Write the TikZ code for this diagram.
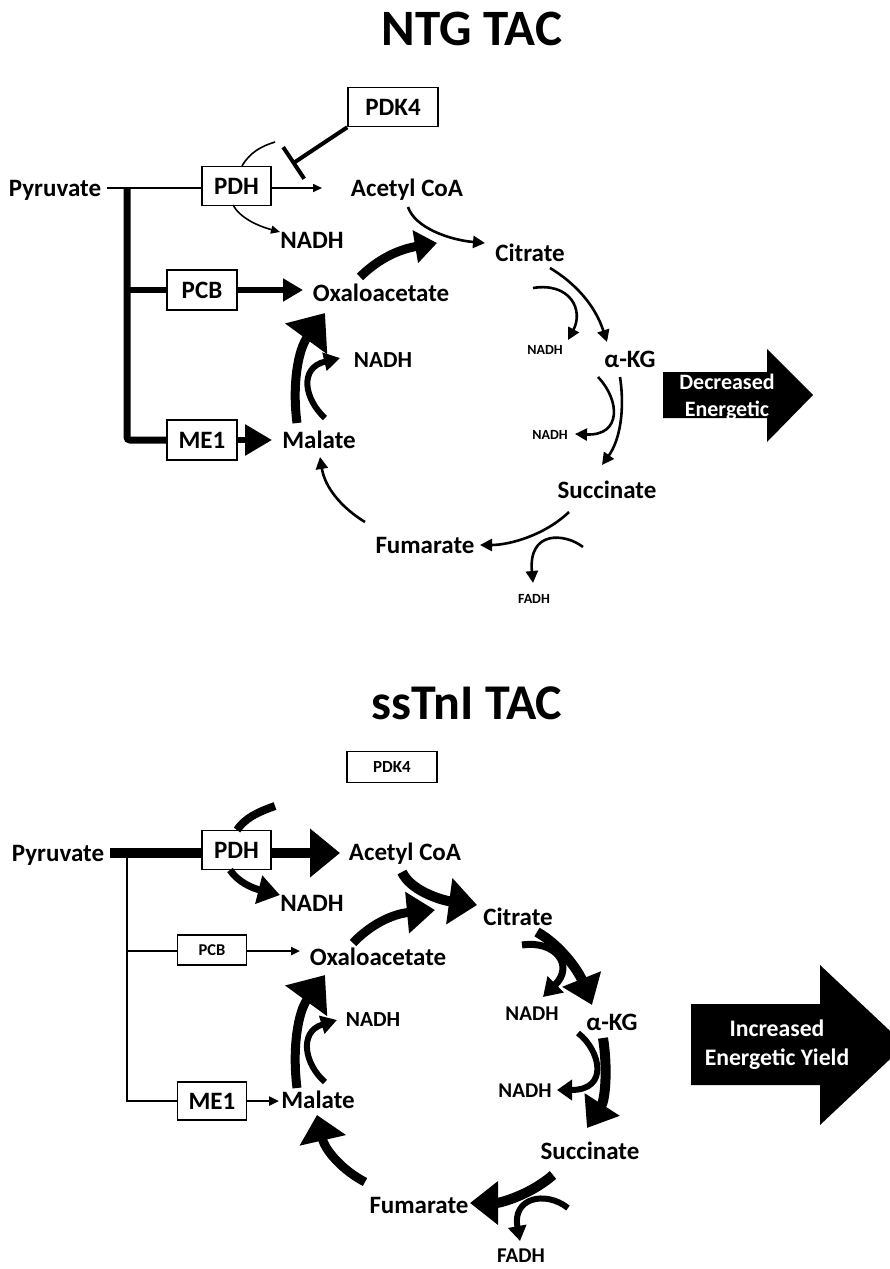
\documentclass[tikz,border=0pt]{standalone}
\usepackage{fontspec}
\setmainfont{Carlito}
\usetikzlibrary{arrows.meta}
\begin{document}
\begin{tikzpicture}[x=1pt,y=-1pt,
  lab/.style 2 args={font=\bfseries\fontsize{#1}{#1}\selectfont,text height=#2,text depth=0pt,inner sep=0pt},
  big/.style={lab={25}{16.1pt}},
  box/.style={draw,line width=1.6pt,inner sep=0pt},
  thinln/.style={line width=1.6pt},
  cyc/.style={line width=2.6pt},
  fat/.style={line width=9pt},
  med/.style={line width=6pt},
  smalltip/.style={-{Triangle[length=9pt,width=8pt]}},
  cyctip/.style={-{Triangle[length=12pt,width=12pt]}},
  midtip/.style={-{Triangle[length=16pt,width=18pt]}},
  bannerbox/.style={fill=black,draw=none}]
\useasboundingbox (0,0) rectangle (890,1269);

%================ TOP: NTG TAC =================
\node[lab={51}{32.8pt}] (titleA) at (472,29) {NTG TAC};
\node[box,minimum width=90pt,minimum height=39pt,big] (pdk4A) at (393,107) {PDK4};
\node[big] (pyrA) at (55,188) {Pyruvate};
\node[box,minimum width=69pt,minimum height=39pt,big] (pdhA) at (236.5,186) {PDH};
\node[big] (acoaA) at (407,188) {Acetyl CoA};
\node[big] (nadhPA) at (312,240) {NADH};
\node[box,minimum width=70pt,minimum height=40pt,big] (pcbA) at (202,290) {PCB};
\node[big] (oxaA) at (381,293) {Oxaloacetate};
\node[box,minimum width=70pt,minimum height=40pt,big] (me1A) at (202,440) {ME1};
\node[big] (malA) at (319,440) {Malate};
\node[lab={23}{14.8pt}] (nadhMA) at (383,360) {NADH};
\node[big] (citA) at (530,253) {Citrate};
\node[lab={14}{9pt}] (nadhCA) at (545,350) {NADH};
\node[big] (akgA) at (630,359) {α-KG};
\node[lab={14}{9pt}] (nadhKA) at (550,435) {NADH};
\node[big] (sucA) at (607,490) {Succinate};
\node[big] (fumA) at (425,545) {Fumarate};
\node[lab={14}{9pt}] (fadhA) at (534,599) {FADH};

% banner arrow
\fill[bannerbox] (663,372) -- (767,372) -- (767,349) -- (813,395) -- (767,442) -- (767,418) -- (663,418) -- cycle;
\node[lab={22}{14.2pt},text=white] (decA) at (727,382) {Decreased};
\node[lab={22}{14.2pt},text=white] (enA) at (727,409) {Energetic};

% pyruvate branches
\coordinate (pyEndA) at (107,188);
\coordinate (acInA) at (322,188);
\coordinate (trTopA) at (127,188);
\coordinate (trPcbA) at (127,290);
\coordinate (oxInA) at (303,290);
\coordinate (malInA) at (272,440);
\draw[thinln] (pyEndA) -- (pyEndA -| pdhA.west);
\draw[thinln,smalltip] (acInA -| pdhA.east) -- (acInA);
\draw[line width=7pt,rounded corners=3pt] (trTopA) |- (me1A.west);
\draw[line width=6pt] (trPcbA) -- (pcbA.west);
\draw[line width=6pt,-{Triangle[length=20pt,width=22pt]}] (pcbA.east) -- (oxInA);
\draw[line width=6pt,-{Triangle[length=27pt,width=30pt]}] (me1A.east) -- (malInA);

% PDK4 inhibition
\coordinate (inhA) at (292,164);
\draw[line width=4pt,-{Bar[width=38pt]}] (pdk4A.south west) -- (inhA);

% PDH side arcs
\coordinate (pdhTopA) at (242,166);
\coordinate (pdhTopEndA) at (275,142);
\draw[thinln] (pdhTopA) .. controls (250,152) and (262,146) .. (pdhTopEndA);
\coordinate (pdhBotA) at (233,205);
\coordinate (nadhTipA) at (280,232);
\draw[thinln,smalltip] (pdhBotA) .. controls (240,218) and (258,226) .. (nadhTipA);

% cycle
\coordinate (a1) at (408,207); \coordinate (a2) at (485,243);
\draw[cyc,cyctip] (a1) .. controls (415,228) and (450,240) .. (a2);
\coordinate (o1) at (360,277); \coordinate (o2) at (437,243);
\draw[fat,-{Triangle[length=22pt,width=32pt]}] (o1) .. controls (375,262) and (395,250) .. (o2);
\coordinate (c1) at (550,268); \coordinate (c2) at (607,342);
\draw[cyc,cyctip] (c1) .. controls (575,283) and (595,305) .. (c2);
\coordinate (c3) at (533,288); \coordinate (c4) at (568,340);
\draw[cyc,cyctip] (c3) .. controls (570,282) and (584,310) .. (c4);
\coordinate (k1) at (620,377); \coordinate (k2) at (602,465);
\draw[cyc,cyctip] (k1) .. controls (625,410) and (620,440) .. (k2);
\coordinate (k3) at (598,377); \coordinate (k4) at (575,434);
\draw[cyc,cyctip] (k3) .. controls (620,400) and (622,436) .. (k4);
\coordinate (s1) at (569,512); \coordinate (s2) at (480,545);
\draw[cyc,cyctip] (s1) .. controls (545,535) and (510,545) .. (s2);
\coordinate (s3) at (583,547); \coordinate (s4) at (533,583);
\draw[cyc,cyctip] (s3) .. controls (565,533) and (528,530) .. (s4);
\coordinate (f1) at (365,522); \coordinate (f2) at (320,457);
\draw[cyc,cyctip] (f1) .. controls (342,508) and (325,488) .. (f2);
\coordinate (m1) at (297,423); \coordinate (m2) at (325,313);
\draw[fat,-{Triangle[length=32pt,width=50pt]}] (m1) .. controls (292,385) and (298,350) .. (m2);
\coordinate (m3) at (325,418); \coordinate (m4) at (340,358);
\draw[med,midtip] (m3) .. controls (305,400) and (298,368) .. (m4);

%================ BOTTOM: ssTnI TAC =================
\node[lab={50}{32.2pt}] (titleB) at (467,703) {ssTnI TAC};
\node[box,minimum width=90pt,minimum height=31pt,lab={17}{11pt}] (pdk4B) at (392,767) {PDK4};
\node[big] (pyrB) at (58,853) {Pyruvate};
\node[box,minimum width=69pt,minimum height=39pt,big] (pdhB) at (236.5,850) {PDH};
\node[big] (acoaB) at (405,852) {Acetyl CoA};
\node[big] (nadhPB) at (312,903) {NADH};
\node[box,minimum width=69pt,minimum height=30pt,lab={16.5}{10.6pt}] (pcbB) at (212,950) {PCB};
\node[big] (oxaB) at (378,957) {Oxaloacetate};
\node[box,minimum width=69pt,minimum height=38pt,big] (me1B) at (212,1101) {ME1};
\node[big] (malB) at (318,1100) {Malate};
\node[lab={21.5}{13.8pt}] (nadhMB) at (373,1020) {NADH};
\node[big] (citB) at (518,917) {Citrate};
\node[lab={21}{13.5pt}] (nadhCB) at (532,1014) {NADH};
\node[big] (akgB) at (612,1022) {α-KG};
\node[lab={21}{13.5pt}] (nadhKB) at (525,1091) {NADH};
\node[big] (sucB) at (590,1151) {Succinate};
\node[big] (fumB) at (419,1205) {Fumarate};
\node[lab={21}{13.5pt}] (fadhB) at (521,1256) {FADH};

\fill[bannerbox] (691,1004) -- (820,1004) -- (820,965) -- (905,1045) -- (820,1125) -- (820,1085) -- (691,1085) -- cycle;
\node[lab={23.7}{15.3pt},text=white] (incB) at (777,1029) {Increased};
\node[lab={23.7}{15.3pt},text=white] (enB) at (777,1058) {Energetic Yield};

\coordinate (pyEndB) at (110,853);
\coordinate (acInB) at (340,853);
\coordinate (trTopB) at (127,853);
\coordinate (trPcbB) at (127,951);
\coordinate (oxInB) at (300,951);
\coordinate (malInB) at (279,1101);
\draw[line width=10pt] (pyEndB) -- (pyEndB -| pdhB.west);
\draw[line width=10pt,-{Triangle[length=30pt,width=47pt]}] (acInB -| pdhB.east) -- (acInB);
\draw[line width=2.4pt] (trTopB) |- (me1B.west);
\draw[line width=2.4pt] (trPcbB) -- (trPcbB -| pcbB.west);
\draw[line width=2.4pt,-{Triangle[length=9pt,width=8pt]}] (oxInB -| pcbB.east) -- (oxInB);
\draw[line width=2.4pt,-{Triangle[length=10pt,width=9pt]}] (me1B.east) -- (malInB);

\coordinate (pdhTopB) at (237,830);
\coordinate (pdhTopEndB) at (275,806);
\draw[line width=8pt] (pdhTopB) .. controls (245,818) and (258,812) .. (pdhTopEndB);
\coordinate (pdhBotB) at (230,870);
\coordinate (nadhTipB) at (280,895);
\draw[line width=7pt,-{Triangle[length=22pt,width=28pt]}] (pdhBotB) .. controls (238,882) and (252,888) .. (nadhTipB);

\coordinate (b1) at (402,872); \coordinate (b2) at (477,905);
\draw[line width=10pt,-{Triangle[length=28pt,width=45pt]}] (b1) .. controls (410,890) and (440,900) .. (b2);
\coordinate (p1) at (353,943); \coordinate (p2) at (435,910);
\draw[fat,-{Triangle[length=28pt,width=40pt]}] (p1) .. controls (370,925) and (392,914) .. (p2);
\coordinate (d1) at (537,932); \coordinate (d2) at (592,1005);
\draw[line width=10pt,-{Triangle[length=28pt,width=40pt]}] (d1) .. controls (560,945) and (578,970) .. (d2);
\coordinate (d3) at (522,945); \coordinate (d4) at (543,997);
\draw[line width=7pt,-{Triangle[length=18pt,width=22pt]}] (d3) .. controls (555,940) and (575,965) .. (d4);
\coordinate (g1) at (603,1038); \coordinate (g2) at (587,1128);
\draw[line width=10pt,-{Triangle[length=28pt,width=40pt]}] (g1) .. controls (608,1070) and (605,1100) .. (g2);
\coordinate (g3) at (578,1033); \coordinate (g4) at (557,1090);
\draw[line width=6pt,-{Triangle[length=15pt,width=20pt]}] (g3) .. controls (600,1050) and (610,1090) .. (g4);
\coordinate (u1) at (553,1175); \coordinate (u2) at (470,1203);
\draw[line width=10pt,-{Triangle[length=28pt,width=42pt]}] (u1) .. controls (530,1195) and (500,1203) .. (u2);
\coordinate (u3) at (568,1208); \coordinate (u4) at (520,1241);
\draw[line width=6pt,-{Triangle[length=15pt,width=18pt]}] (u3) .. controls (545,1190) and (512,1198) .. (u4);
\coordinate (h1) at (365,1182); \coordinate (h2) at (317,1115);
\draw[fat,-{Triangle[length=26pt,width=46pt]}] (h1) .. controls (342,1170) and (325,1150) .. (h2);
\coordinate (q1) at (297,1088); \coordinate (q2) at (325,975);
\draw[fat,-{Triangle[length=32pt,width=50pt]}] (q1) .. controls (292,1048) and (298,1012) .. (q2);
\coordinate (q3) at (325,1082); \coordinate (q4) at (337,1020);
\draw[med,midtip] (q3) .. controls (305,1065) and (298,1032) .. (q4);
\end{tikzpicture}
\end{document}
